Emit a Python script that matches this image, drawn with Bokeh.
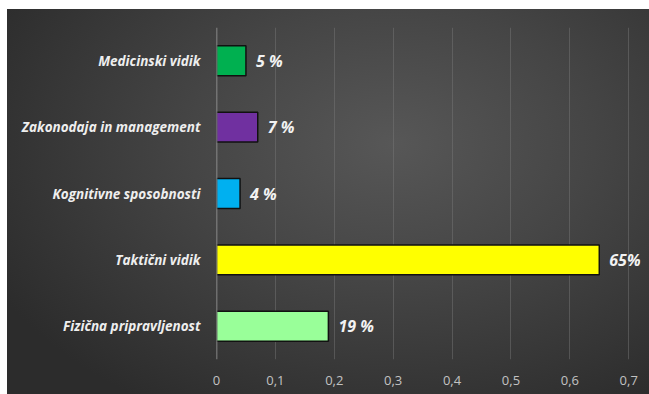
from bokeh.plotting import figure
from bokeh.models import ColumnDataSource, FactorRange, Range1d, Span, FixedTicker
from bokeh.core.properties import value
from bokeh.embed import file_html
from bokeh.resources import INLINE

categories = ["Fizična pripravljenost", "Taktični vidik", "Kognitivne sposobnosti",
              "Zakonodaja in management", "Medicinski vidik"]
values = [0.19, 0.65, 0.04, 0.07, 0.05]
value_labels = ["19 %", "65%", "4 %", "7 %", "5 %"]
colors = ["#99ff99", "#ffff00", "#00b0f0", "#7030a0", "#00b050"]
ticks = [0, 0.1, 0.2, 0.3, 0.4, 0.5, 0.6, 0.7]
tick_labels = ["0", "0,1", "0,2", "0,3", "0,4", "0,5", "0,6", "0,7"]

source = ColumnDataSource(dict(cat=categories, val=values, lab=value_labels, col=colors))

p = figure(width=649, height=394, output_backend="svg", toolbar_location=None,
           y_range=FactorRange(factors=categories, range_padding=0),
           x_range=Range1d(0, 0.72),
           min_border_left=216, min_border_right=9, min_border_top=27, min_border_bottom=35,
           border_fill_alpha=0, background_fill_alpha=0, outline_line_color=None)
p.styles = {"background": "radial-gradient(ellipse 70% 80% at 60% 35%, #575757 0%, #454545 45%, #2c2c2c 100%) "
                          "7px 9px / calc(100% - 7px) calc(100% - 9px) no-repeat, #ffffff"}

p.hbar(y="cat", right="val", left=0, height=0.45, source=source, fill_color="col",
       line_color="#111111", line_width=1.5)

p.text(x="val", y="cat", text="lab", source=source, x_offset=10,
       text_color="#f2f2f2", text_font=value("Open Sans"), text_font_style="bold italic",
       text_font_size="16px", text_baseline="middle", text_align="left")

p.add_layout(Span(location=0, dimension="height", line_color="#a0a0a0", line_width=1.5))

p.xaxis.ticker = FixedTicker(ticks=ticks)
p.xaxis.major_label_overrides = {t: l for t, l in zip(ticks, tick_labels)}
p.xaxis.major_label_text_color = "#c2c2c2"
p.xaxis.major_label_text_font = "Open Sans"
p.xaxis.major_label_text_font_size = "13px"
p.xaxis.major_label_standoff = 10
p.xaxis.axis_line_color = None
p.xaxis.major_tick_line_color = None
p.xaxis.minor_tick_line_color = None

p.yaxis.major_label_text_color = "#eeeeee"
p.yaxis.major_label_text_font = "Open Sans"
p.yaxis.major_label_text_font_style = "bold italic"
p.yaxis.major_label_text_font_size = "13.5px"
p.yaxis.major_label_standoff = 10
p.yaxis.axis_line_color = None
p.yaxis.major_tick_line_color = None
p.yaxis.minor_tick_line_color = None

p.xgrid.grid_line_color = "#7a7a7a"
p.xgrid.grid_line_alpha = 0.45
p.ygrid.grid_line_color = None

open("out.html", "w").write(file_html(p, INLINE))
